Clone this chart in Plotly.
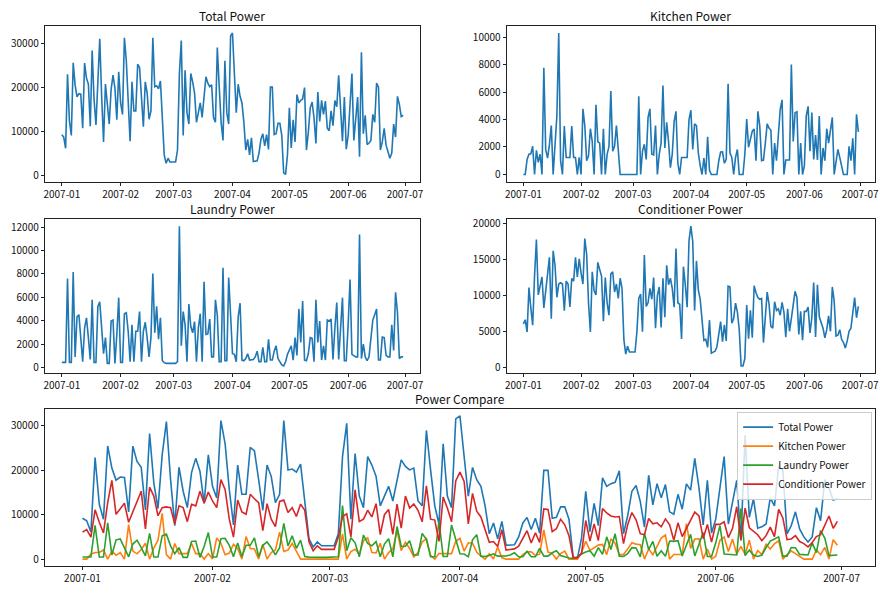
import pandas as pd
import plotly.graph_objects as go
from plotly.subplots import make_subplots

# daily values, 2007-01-01 .. 2007-06-30
dates = pd.date_range("2007-01-01", "2007-06-30", freq="D")

total_power = [
    9200, 8650, 6100, 22900, 12350, 9000, 25500, 20500, 17800, 18500,
    18400, 10650, 25450, 22000, 20700, 11100, 28300, 17200, 11400, 23500,
    31000, 17900, 7550, 20700, 15300, 11600, 19500, 22700, 19800, 12600,
    23500, 16400, 13800, 31200, 26000, 15700, 7700, 21200, 14600, 14600,
    25200, 24400, 17900, 11000, 21200, 18650, 12700, 14600, 31200, 20100,
    20300, 19600, 21400, 12700, 4600, 2700, 3850, 3000, 3000, 3000,
    3000, 5700, 23100, 30600, 9000, 23800, 14200, 11600, 23100, 21200,
    18650, 12000, 14200, 16400, 13100, 17500, 22350, 20900, 20100, 20500,
    13100, 12000, 29000, 20100, 12000, 7900, 26000, 14200, 11600, 31600,
    32300, 23100, 14200, 20650, 17900, 16400, 12000, 5700, 8140, 4600,
    8500, 3100, 3250, 3250, 5000, 8140, 9400, 6660, 9200, 5850,
    20000, 20000, 9200, 9400, 11770, 11770, 9000, 500, 150, 4700,
    15300, 6200, 12580, 7550, 18300, 16400, 17000, 17300, 19900, 5700,
    9770, 15300, 16600, 13000, 7200, 18900, 12200, 17000, 13800, 16800,
    10650, 10100, 14600, 11250, 16950, 15540, 22700, 16050, 7700, 17760,
    5900, 9000, 16050, 23100, 7900, 13100, 17760, 4200, 27900, 9400,
    13600, 6950, 7300, 7900, 13800, 12000, 20900, 20000, 5700, 7550,
    10650, 6800, 5000, 3850, 5000, 11600, 8650, 17900, 16050, 13300,
    13600,
]

kitchen_power = [
    0, 0, 1100, 1470, 1500, 2050, 0, 1750, 890, 1470,
    0, 7760, 1800, 1190, 2170, 3560, 0, 2500, 4260, 10300,
    1000, 0, 3520, 1240, 1240, 1240, 3520, 1240, 1240, 0,
    1240, 0, 4780, 3560, 1000, 1350, 3330, 2400, 0, 5080,
    2400, 2280, 0, 3330, 0, 1470, 2050, 6080, 1700, 2050,
    3560, 1700, 0, 0, 0, 0, 0, 0, 0, 0,
    0, 0, 5700, 0, 1700, 2200, 1100, 4150, 4780, 1470,
    1420, 3560, 0, 1470, 2280, 6480, 1930, 3800, 2400, 490,
    1470, 3840, 4600, 815, 0, 1240, 1240, 1240, 1240, 4000,
    4680, 1820, 3680, 3560, 1580, 650, 0, 1190, 0, 2750,
    300, 0, 0, 0, 0, 1000, 1630, 1650, 815, 1100,
    6600, 1580, 1240, 0, 1240, 1820, 0, 0, 0, 1470,
    4030, 1980, 2500, 3150, 3300, 1000, 4600, 3560, 1000, 1050,
    2280, 3680, 3380, 3220, 0, 2280, 1000, 2870, 4730, 5430,
    0, 1050, 1050, 1050, 8000, 2400, 4500, 4570, 0, 2280,
    0, 650, 4260, 4960, 1700, 4500, 1100, 2870, 1050, 4260,
    0, 1930, 1000, 3330, 2280, 3450, 4150, 0, 1000, 1820,
    1240, 540, 0, 0, 0, 2050, 1000, 2630, 0, 4380,
    3100,
]

laundry_power = [
    460, 460, 460, 7620, 460, 460, 8160, 930, 4340, 4530,
    2570, 520, 3390, 4260, 2570, 710, 5790, 460, 460, 5240,
    5620, 2980, 1200, 2570, 380, 380, 3990, 4070, 380, 2840,
    5980, 460, 460, 4610, 4700, 3110, 520, 3660, 520, 3110,
    3110, 4800, 520, 3110, 3880, 2570, 930, 2570, 8030, 2980,
    5240, 2430, 4260, 600, 440, 380, 380, 380, 380, 380,
    380, 520, 12070, 1880, 4800, 3660, 520, 5430, 3520, 2980,
    3930, 520, 3390, 4610, 520, 7340, 2840, 2890, 4150, 930,
    930, 5790, 4480, 520, 520, 8520, 600, 600, 7700, 4500,
    1200, 1150, 520, 4340, 5510, 660, 600, 790, 1200, 660,
    710, 710, 930, 1420, 520, 520, 1750, 520, 520, 2430,
    660, 660, 1420, 1880, 790, 520, 250, 160, 520, 1150,
    1610, 1880, 660, 2570, 1060, 5020, 2160, 5700, 660, 600,
    1200, 2570, 2510, 520, 5790, 2160, 3990, 660, 1880, 660,
    4070, 3990, 4150, 710, 3390, 5570, 710, 3390, 5980, 600,
    600, 3660, 7530, 1150, 1060, 930, 930, 11360, 790, 2020,
    930, 600, 930, 2570, 4070, 4530, 5020, 660, 660, 2620,
    2570, 1060, 930, 930, 3660, 1470, 6440, 4750, 790, 930,
    930,
]

conditioner_power = [
    6070, 6660, 4960, 11100, 8300, 5900, 12700, 17760, 10100, 11250,
    12580, 8300, 10500, 12700, 15300, 6800, 16200, 14200, 9770, 11600,
    11770, 11600, 7900, 12000, 11600, 8440, 12360, 12000, 15300, 12580,
    15100, 13100, 11600, 17900, 15700, 9000, 4960, 13300, 10650, 10100,
    14600, 13600, 12700, 6440, 12500, 9000, 7300, 13000, 13300, 10500,
    11600, 9600, 12400, 11000, 3900, 1900, 3000, 2200, 2200, 2200,
    2200, 4960, 9600, 10200, 5000, 15600, 8500, 9000, 11000, 9500,
    12500, 5500, 10000, 11200, 5600, 12400, 7000, 14200, 11500, 12400,
    11000, 8400, 16500, 9000, 8800, 4000, 14000, 11500, 8400, 17600,
    19600, 17500, 7950, 14800, 10800, 9500, 6400, 3800, 3950, 2840,
    6600, 2040, 2180, 2300, 2930, 4620, 6400, 3640, 5950, 3730,
    11300, 11200, 6170, 6840, 8970, 7730, 5280, 270, 270, 1290,
    8700, 4040, 7950, 4170, 11370, 10400, 9720, 9500, 9600, 3500,
    7730, 10480, 8840, 5730, 5500, 9150, 7950, 8170, 7280, 9060,
    7730, 4260, 8170, 5060, 6840, 8840, 10600, 9720, 4620, 7820,
    3820, 7820, 7820, 8400, 4840, 6930, 11800, 4260, 11500, 7060,
    6170, 5500, 4170, 5280, 7200, 5060, 11200, 9280, 4400, 4530,
    5280, 3950, 3500, 2750, 3730, 5060, 5500, 7500, 9720, 6930,
    8520,
]

series = {
    "Total Power": total_power,
    "Kitchen Power": kitchen_power,
    "Laundry Power": laundry_power,
    "Conditioner Power": conditioner_power,
}
colors = ["#1f77b4", "#ff7f0e", "#2ca02c", "#d62728"]

W, H = 888, 590
OFF = 8  # page body margin in the browser
FONT = "Noto Sans CJK SC, Noto Sans, DejaVu Sans"


def padded(values):
    lo, hi = min(values), max(values)
    span = hi - lo
    return [lo - 0.05 * span, hi + 0.05 * span]


def fx(px):
    return (px - OFF) / W


def fy(py):
    return 1 - (py - OFF) / H


fig = make_subplots(rows=3, cols=2,
                    specs=[[{}, {}], [{}, {}], [{"colspan": 2}, None]])

# small panels: (name, row, col, dtick)
panels = [("Total Power", 1, 1, 10000), ("Kitchen Power", 1, 2, 2000),
          ("Laundry Power", 2, 1, 2000), ("Conditioner Power", 2, 2, 5000)]
for name, r, c, dt in panels:
    fig.add_trace(go.Scatter(x=dates, y=series[name], mode="lines",
                             line=dict(color=colors[0], width=1.6),
                             showlegend=False), row=r, col=c)
    fig.update_yaxes(range=padded(series[name]), dtick=dt, tick0=0, row=r, col=c)

for (name, y), col in zip(series.items(), colors):
    fig.add_trace(go.Scatter(x=dates, y=y, mode="lines", name=name,
                             line=dict(color=col, width=1.6)), row=3, col=1)
all_vals = [v for s in series.values() for v in s]
fig.update_yaxes(range=padded(all_vals), dtick=10000, tick0=0, row=3, col=1)

pad = pd.Timedelta(days=9)
axis_style = dict(showline=True, mirror=True, linecolor="#222", linewidth=1,
                  ticks="outside", ticklen=3, tickwidth=1, tickcolor="#222",
                  showgrid=False, zeroline=False,
                  tickfont=dict(family=FONT, size=10, color="#111"))
fig.update_xaxes(range=[dates[0] - pad, dates[-1] + pad], tickformat="%Y-%m",
                 dtick="M1", tick0="2007-01-01", **axis_style)
fig.update_yaxes(tickformat="d", **axis_style)

# axis boxes in screen pixels
boxes = {
    1: ((43, 421), (22, 179)),
    2: ((508, 879), (22, 179)),
    3: ((43, 421), (217, 372)),
    4: ((508, 879), (217, 372)),
    5: ((43, 879), (408, 567)),
}
for i, ((x0, x1), (y0, y1)) in boxes.items():
    suffix = "" if i == 1 else str(i)
    fig.layout["xaxis" + suffix].domain = [fx(x0), fx(x1)]
    fig.layout["yaxis" + suffix].domain = [fy(y1), fy(y0)]

titles = ["Total Power", "Kitchen Power", "Laundry Power",
          "Conditioner Power", "Power Compare"]
for i, t in enumerate(titles, start=1):
    (x0, x1), (y0, _) = boxes[i]
    fig.add_annotation(text=t, x=fx((x0 + x1) / 2), y=fy(y0),
                       xref="paper", yref="paper", xanchor="center",
                       yanchor="bottom", yshift=0, showarrow=False,
                       font=dict(family=FONT, size=12, color="#111"))

fig.update_layout(
    width=W, height=H,
    margin=dict(l=0, r=0, t=0, b=0),
    paper_bgcolor="white", plot_bgcolor="white",
    legend=dict(x=fx(876), y=fy(411), xanchor="right", yanchor="top",
                bgcolor="rgba(255,255,255,0.8)", bordercolor="#ccc",
                borderwidth=1, font=dict(family=FONT, size=10, color="#111"),
                tracegroupgap=0, itemwidth=30),
    font=dict(family=FONT),
)

fig.write_html("out.html")
